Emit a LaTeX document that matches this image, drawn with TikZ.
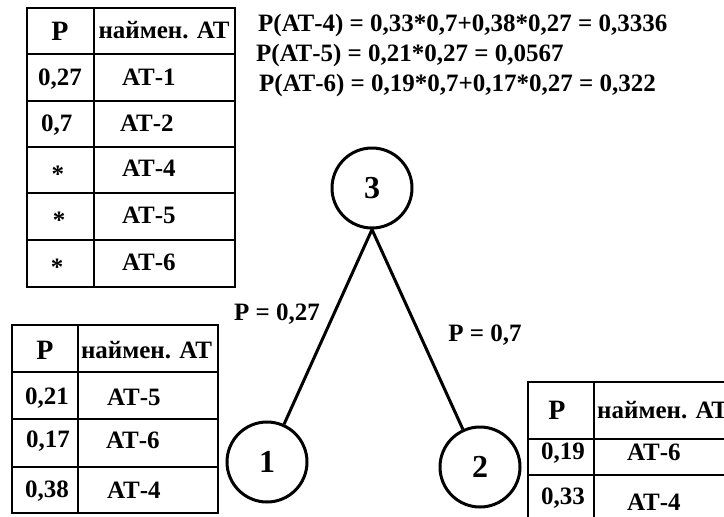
\documentclass[tikz,border=0pt]{standalone}
\usepackage{fontspec}
\setmainfont{Liberation Serif}
\usetikzlibrary{positioning}

\begin{document}
\begin{tikzpicture}[x=1pt, y=-1pt,
            vertex/.style={draw, circle, line width=3pt, minimum size=80pt, inner sep=0pt,
                           font=\fontsize{32}{32}\selectfont\bfseries},
            edge/.style={line width=3pt},
            grid/.style={line width=2.6pt},
            cell/.style={inner sep=0pt, text height=16.5pt, text depth=0pt,
                         font=\fontsize{25}{25}\selectfont\bfseries},
            hcell/.style={cell, text height=18.5pt, font=\fontsize{28}{28}\selectfont\bfseries},
            star/.style={cell, yshift=-4pt}
        ]
        \useasboundingbox (0,0) rectangle (724,517);
        \clip (0,0) rectangle (724,517);

        % Table of node 3
        \draw[grid] (27,8) rectangle (235,287);
        \draw[grid] (94,8) -- (94,287);
        \foreach \y in {54,101,147,193,240}
            \draw[grid] (27,\y) -- (235,\y);
        \node[hcell] (hp3) at (60,31) {P};
        \node[cell] (hn3) at (164,30) {наймен. АТ};
        \node[cell] (p31) at (60,77.5) {0,27};
        \node[cell, anchor=west] (a31) at (122,77.5) {АТ-1};
        \node[cell, anchor=west] (p32) at (41,123) {0,7};
        \node[cell, anchor=west] (a32) at (120,123) {АТ-2};
        \node[star] (p33) at (58,170) {*};
        \node[cell, anchor=west] (a33) at (122,168) {АТ-4};
        \node[star] (p34) at (59,216.5) {*};
        \node[cell, anchor=west] (a34) at (122,215) {АТ-5};
        \node[star] (p35) at (57,263.5) {*};
        \node[cell, anchor=west] (a35) at (122,262) {АТ-6};

        % Formulas
        \node[cell, anchor=west] (f4) at (258,23) {P(АТ-4) = 0,33*0,7+0,38*0,27 = 0,3336};
        \node[cell, anchor=west] (f5) at (256,53) {P(АТ-5) = 0,21*0,27 = 0,0567};
        \node[cell, anchor=west] (f6) at (259,83) {P(АТ-6) = 0,19*0,7+0,17*0,27 = 0,322};

        % Tree
        \node[vertex] (n3) at (372,188) {3};
        \node[vertex] (n1) at (267,462) {1};
        \node[vertex] (n2) at (480,467) {2};
        \draw[edge] (n3.south) -- (n1);
        \draw[edge] (n3.south) -- (n2);
        \node[cell] (lp1) at (277,312) {P = 0,27};
        \node[cell] (lp2) at (485,333) {P = 0,7};

        % Table of node 1
        \draw[grid] (12,325) rectangle (218,513);
        \draw[grid] (78,325) -- (78,513);
        \foreach \y in {372,419,467}
            \draw[grid] (12,\y) -- (218,\y);
        \node[hcell] (hp1) at (45,350) {P};
        \node[cell] (hn1) at (146.5,350) {наймен. АТ};
        \node[cell] (p11) at (47,396) {0,21};
        \node[cell, anchor=west] (a11) at (107,397) {АТ-5};
        \node[cell] (p12) at (48,439) {0,17};
        \node[cell, anchor=west] (a12) at (106,440) {АТ-6};
        \node[cell] (p13) at (47,489) {0,38};
        \node[cell, anchor=west] (a13) at (107,490) {АТ-4};

        % Table of node 2
        \draw[grid] (528,382) rectangle (742,532);
        \draw[grid] (594,382) -- (594,532);
        \foreach \y in {439,475}
            \draw[grid] (528,\y) -- (742,\y);
        \node[hcell] (hp2) at (557,410) {P};
        \node[cell, anchor=west] (hn2) at (597,410) {наймен. АТ};
        \node[cell] (p21) at (563,451) {0,19};
        \node[cell, anchor=west] (a21) at (627,452) {АТ-6};
        \node[cell] (p22) at (563,496) {0,33};
        \node[cell, anchor=west] (a22) at (627,502) {АТ-4};
\end{tikzpicture}
\end{document}
